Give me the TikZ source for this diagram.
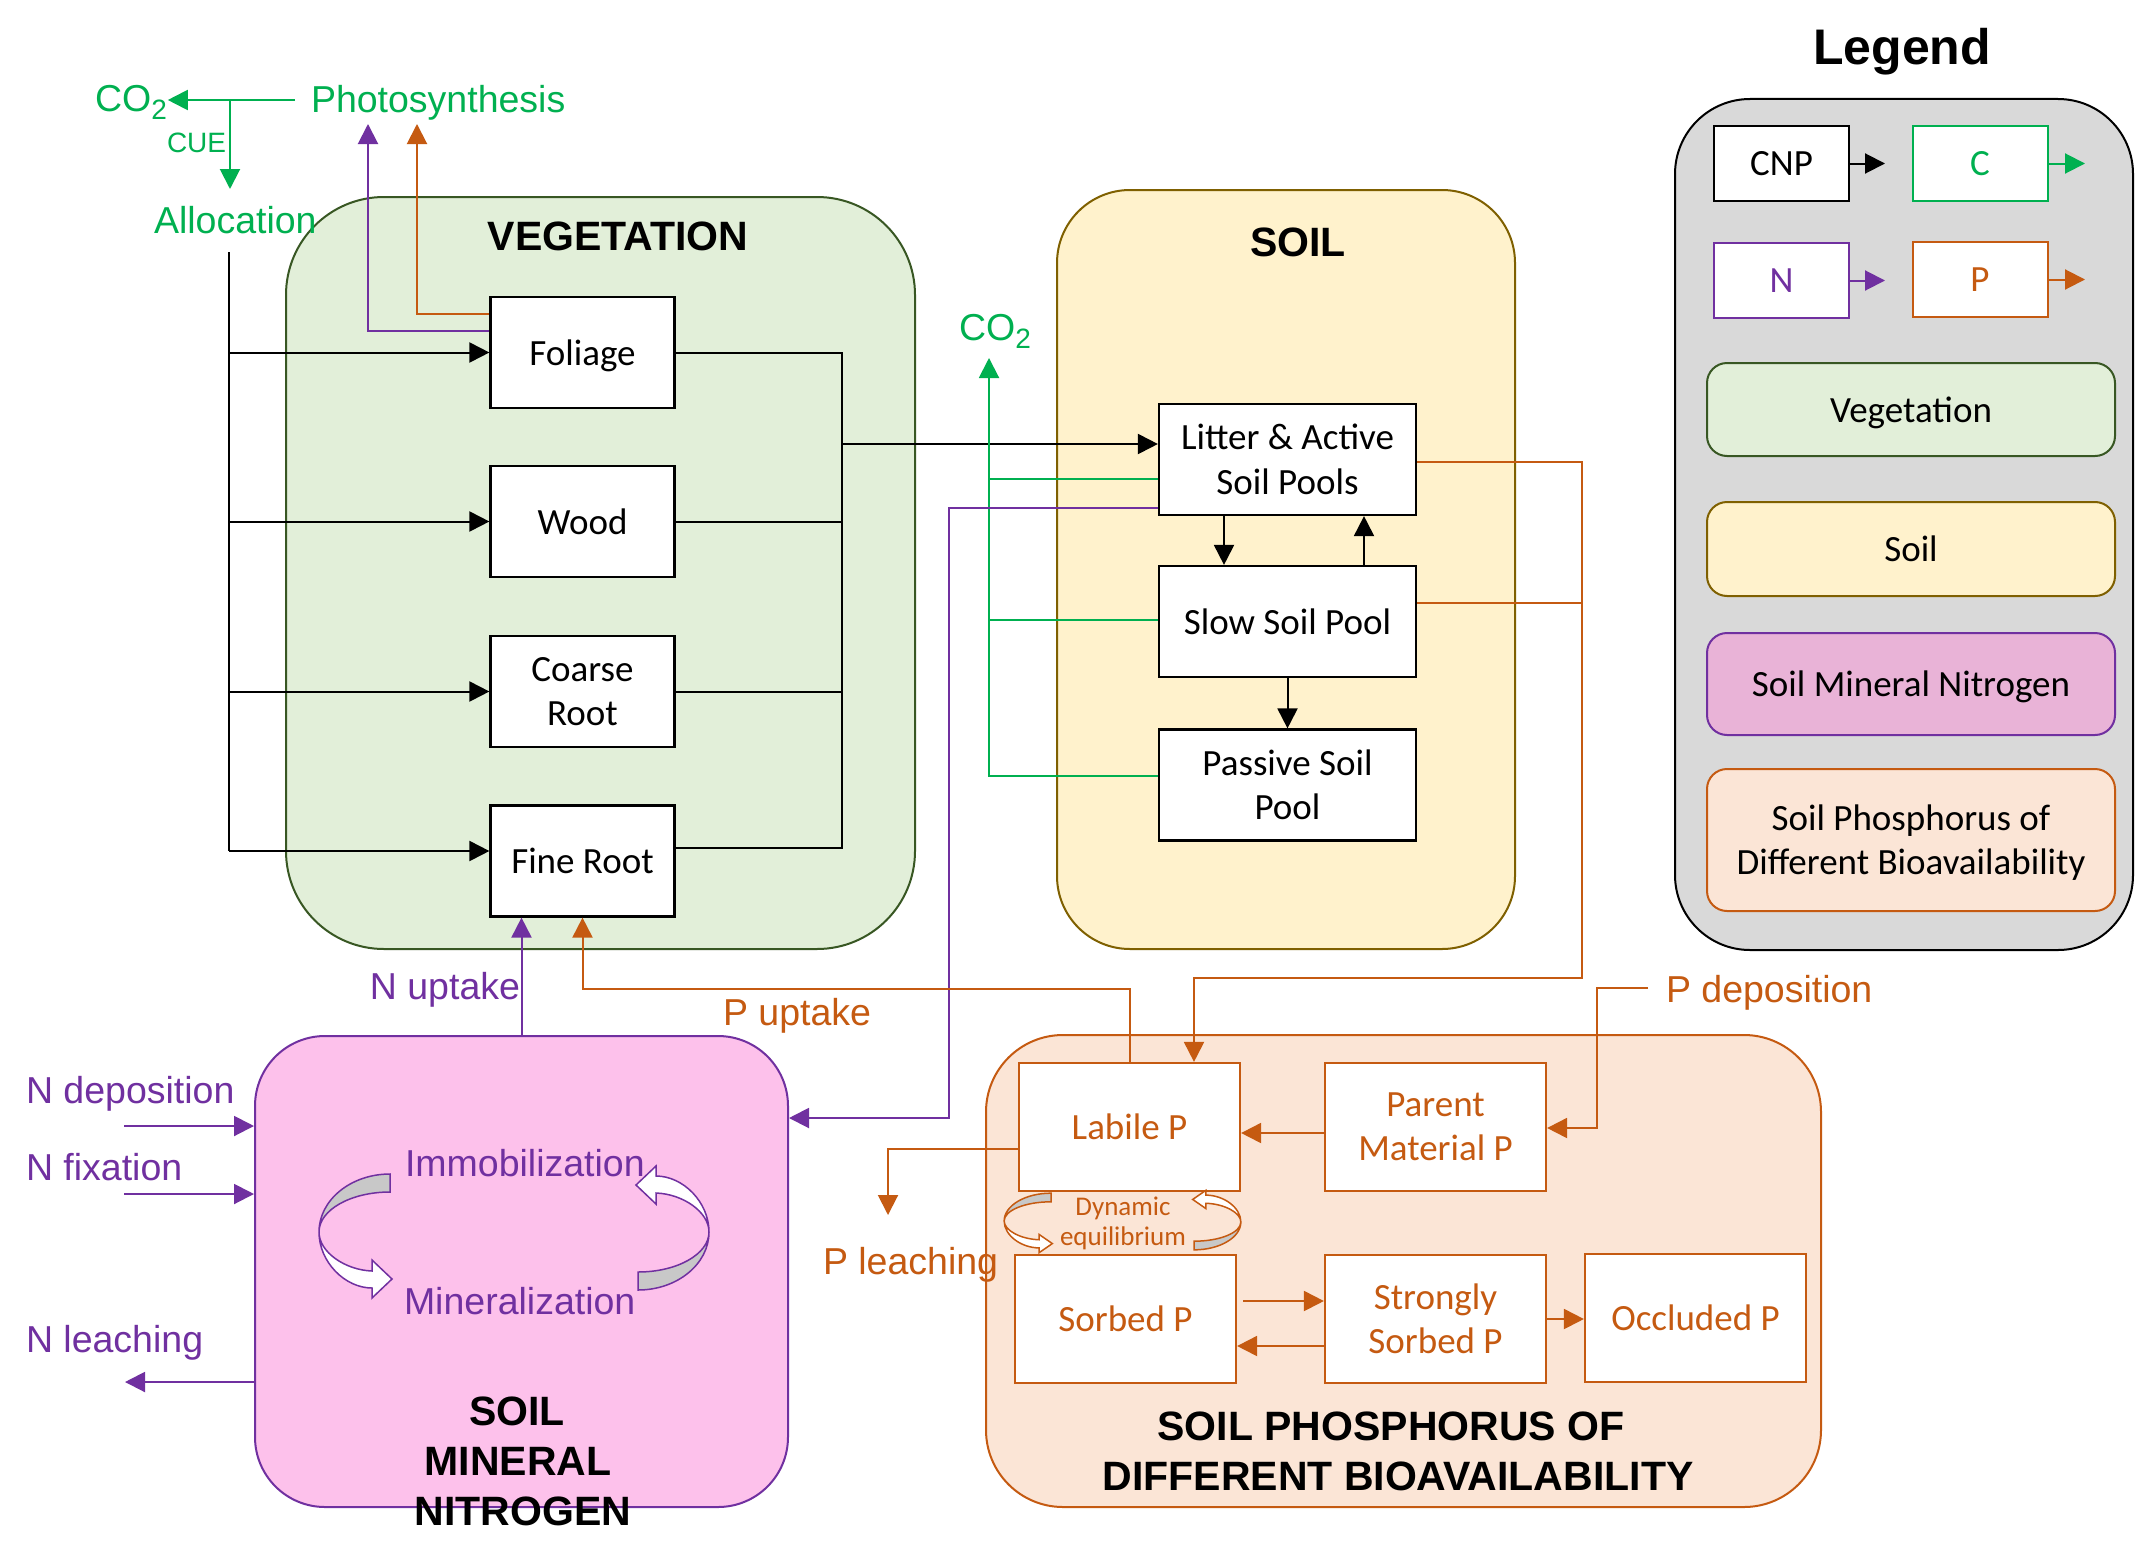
\documentclass[tikz,border=0pt]{standalone}
\usepackage{fontspec}
\setmainfont{Liberation Sans}
\newfontfamily\calfont{Carlito}
\usetikzlibrary{arrows.meta,calc}
\definecolor{cgreen}{HTML}{00B050}
\definecolor{cpurple}{HTML}{7030A0}
\definecolor{corange}{HTML}{C55A11}
\definecolor{vegfill}{HTML}{E2EFD9}
\definecolor{vegdraw}{HTML}{385723}
\definecolor{soilfill}{HTML}{FFF2CC}
\definecolor{soildraw}{HTML}{7F6000}
\definecolor{smnfill}{HTML}{FDC1EB}
\definecolor{smnleg}{HTML}{E9B3D7}
\definecolor{pfill}{HTML}{FBE5D6}
\definecolor{legfill}{HTML}{D9D9D9}
\definecolor{eqgray}{HTML}{C8C8C8}
\newcommand\lbf{\fontsize{37.5}{45}\selectfont}
\newcommand\bxf{\calfont\fontsize{37}{44.5}\selectfont}
\newcommand\eqf{\calfont\fontsize{27}{30}\selectfont}
\newcommand\titf{\fontsize{41}{49}\selectfont\bfseries}
\newcommand\csub[1]{\raisebox{-8pt}{\fontsize{28}{30}\selectfont #1}}
\newcommand\cvshape[1]{%
  \filldraw[fill=eqgray, draw=#1, line width=1.5pt] (0,-58) .. controls (-39.2,-58) and (-71,-32) .. (-71,0) .. controls (-71,-22.1) and (-39.2,-40) .. (0,-40) -- cycle;
  \filldraw[fill=white, draw=#1, line width=1.5pt] (-71,0) .. controls (-71,30) and (-45,56) .. (-18,56) -- (-18,66) -- (2,47) -- (-18,28) -- (-18,39) .. controls (-45,38) and (-71,20) .. (-71,0) -- cycle;
}
\begin{document}
\begin{tikzpicture}[x=1pt,y=-1pt,
  >={Triangle[length=20pt,width=20pt]}, line width=2pt,
  region/.style={inner sep=0pt, line width=2pt},
  pool/.style={draw=black, fill=white, line width=2.2pt, minimum width=184pt, minimum height=111pt, inner sep=0pt, align=center, font=\bxf},
  spool/.style={pool, minimum width=257pt},
  ppool/.style={draw=corange, fill=white, line width=2.2pt, minimum width=221pt, minimum height=128pt, inner sep=0pt, align=center, font=\bxf, text=corange},
  nodesc/.style={text depth=0pt},
  lab/.style={inner sep=0pt, font=\lbf},
  ttl/.style={inner sep=0pt, font=\titf, anchor=base},
  legbox/.style={fill=white, line width=2pt, minimum width=135pt, minimum height=75pt, inner sep=0pt, font=\bxf},
  legreg/.style={rounded corners=20pt, minimum width=408pt, line width=2pt, inner sep=0pt, font=\bxf, align=center},
  cg/.style={draw=cgreen, line width=2pt},
  cp/.style={draw=cpurple, line width=2pt},
  co/.style={draw=corange, line width=2pt}
]
\useasboundingbox (0,0) rectangle (2135,1560);
\fill[white] (0,0) rectangle (2135,1560);

% regions
\node[region, fill=vegfill, draw=vegdraw, rounded corners=98pt, minimum width=629pt, minimum height=752pt] (veg) at (600.5,573) {};
\node[region, fill=soilfill, draw=soildraw, rounded corners=73pt, minimum width=458pt, minimum height=759pt] (soil) at (1286,569.5) {};
\node[region, fill=smnfill, draw=cpurple, rounded corners=70pt, minimum width=533pt, minimum height=471pt] (smn) at (521.5,1271.5) {};
\node[region, fill=pfill, draw=corange, rounded corners=77pt, minimum width=835pt, minimum height=472pt] (spdb) at (1403.5,1271) {};
\node[region, fill=legfill, draw=black, rounded corners=75pt, minimum width=458pt, minimum height=851pt] (leg) at (1904,524.5) {};

% titles
\node[ttl] (vegT) at (618,250) {VEGETATION};
\node[ttl] (soilT) at (1298,256) {SOIL};
\node[ttl, font=\fontsize{50}{56}\selectfont\bfseries] (legT) at (1902,65) {Legend};
\node[ttl] (spT1) at (1391,1440) {SOIL PHOSPHORUS OF};
\node[ttl] (spT2) at (1398,1490) {DIFFERENT BIOAVAILABILITY};

% vegetation pools
\node[pool, nodesc] (foliage) at (582.5,352.5) {Foliage};
\node[pool] (wood) at (582.5,521.5) {Wood};
\node[pool] (coarse) at (582.5,691.5) {Coarse\\Root};
\node[pool] (fine) at (582.5,861) {Fine Root};

% soil pools
\node[spool] (litter) at (1287.5,459.5) {Litter \& Active\\Soil Pools};
\node[spool] (slow) at (1287.5,621.5) {Slow Soil Pool};
\node[spool] (passive) at (1287.5,785) {Passive Soil\\Pool};

% phosphorus pools
\node[ppool] (labile) at (1129.5,1127) {Labile P};
\node[ppool] (parent) at (1435.5,1127) {Parent\\Material P};
\node[ppool] (sorbed) at (1125.5,1319) {Sorbed P};
\node[ppool] (strong) at (1435.5,1319) {Strongly\\Sorbed P};
\node[ppool] (occl) at (1695.5,1318) {Occluded P};

% legend items
\node[legbox, draw=black] (lcnp) at (1781.5,163.5) {CNP};
\node[legbox, draw=cgreen, text=cgreen] (lc) at (1980,163.5) {C};
\node[legbox, draw=cpurple, text=cpurple] (ln) at (1781.5,280.5) {N};
\node[legbox, draw=corange, text=corange] (lp) at (1980,279.5) {P};
\coordinate (lcnpE) at (1885,163.5);
\coordinate (lcE) at (2085,163.5);
\coordinate (lnE) at (1885,280.5);
\coordinate (lpE) at (2085,279.5);
\draw[->] (lcnp.east) -- (lcnpE);
\draw[cg,->] (lc.east) -- (lcE);
\draw[cp,->] (ln.east) -- (lnE);
\draw[co,->] (lp.east) -- (lpE);
\node[legreg, nodesc, fill=vegfill, draw=vegdraw, minimum height=93pt] (lveg) at (1911,409.5) {Vegetation};
\node[legreg, fill=soilfill, draw=soildraw, minimum height=94pt] (lsoil) at (1911,549) {Soil};
\node[legreg, nodesc, fill=smnleg, draw=cpurple, minimum height=102pt] (lsmn) at (1911,684) {Soil Mineral Nitrogen};
\node[legreg, fill=pfill, draw=corange, minimum height=142pt] (lsp) at (1911,840) {};
\node[inner sep=0pt, font=\bxf, align=center] (lspT) at (1911,842.5) {Soil Phosphorus of\\Different Bioavailability};

% top labels
\node[lab, text=cgreen, anchor=base west] (co2a) at (94,112) {CO\csub{2}};
\node[lab, text=cgreen, anchor=base west] (photo) at (310,113) {Photosynthesis};
\node[lab, text=cgreen, anchor=base west, font=\fontsize{28}{30}\selectfont] (cue) at (166,152) {CUE};
\node[lab, text=cgreen, anchor=base west] (alloc) at (153,233) {Allocation};
\node[lab, text=cgreen, anchor=base west] (co2s) at (958,340) {CO\csub{2}};

% carbon allocation (black)
\coordinate (allocTop) at (229,252);
\coordinate (allocBot) at (229,851);
\draw (allocTop) -- (allocBot);
\draw[->] (allocTop |- foliage.west) -- (foliage.west);
\draw[->] (allocTop |- wood.west) -- (wood.west);
\draw[->] (allocTop |- coarse.west) -- (coarse.west);
\coordinate (fineIn) at ($(fine.west)+(0,-10)$);
\draw[->] (allocBot) -- (fineIn);
\coordinate (bus) at (842,444);
\coordinate (fineOut) at ($(fine.east)+(0,-13)$);
\draw (foliage.east) -- (foliage.east -| bus) -- (fineOut -| bus) -- (fineOut);
\draw (wood.east) -- (wood.east -| bus);
\draw (coarse.east) -- (coarse.east -| bus);
\draw[->] (bus) -- (bus -| litter.west);
\draw[->] ($(litter.south)+(-63.5,0)$) -- ($(slow.north)+(-63.5,0)$);
\draw[->] ($(slow.north)+(76.5,0)$) -- ($(litter.south)+(76.5,0)$);
\draw[->] (slow.south) -- (passive.north);

% green
\coordinate (ps) at (295,100);
\coordinate (split) at (230,100);
\coordinate (allocIn) at (230,189);
\draw[cg,->] (ps) -- (ps -| co2a.east);
\draw[cg,->] (split) -- (allocIn);
\coordinate (co2tip) at (989,358);
\draw[cg,->] ($(passive.west)+(0,-9)$) -| (co2tip);
\coordinate (g1) at ($(litter.west)+(0,19.5)$);
\coordinate (g2) at ($(slow.west)+(0,-1.5)$);
\draw[cg] (g1) -- (g1 -| co2tip);
\draw[cg] (g2) -- (g2 -| co2tip);

% foliage to photosynthesis
\coordinate (tipO) at (417,124);
\coordinate (tipN) at (368,124);
\draw[co,->] ($(foliage.north west)+(0,18)$) -| (tipO);
\draw[cp,->] ($(foliage.north west)+(0,35)$) -| (tipN);

% nitrogen
\coordinate (nUp) at ($(fine.south)+(-61,0)$);
\draw[cp,->] (nUp |- smn.north) -- (nUp);
\node[lab, text=cpurple, anchor=base east] (nuptL) at (521,999) {N uptake};
\coordinate (ndep) at (124,1126);
\coordinate (nfix) at (124,1194);
\coordinate (nlch) at (125,1382);
\draw[cp,->] (ndep) -- (ndep -| smn.west);
\draw[cp,->] (nfix) -- (nfix -| smn.west);
\draw[cp,->] (smn.west |- nlch) -- (nlch);
\node[lab, text=cpurple, anchor=base west] (ndepL) at (25,1103) {N deposition};
\node[lab, text=cpurple, anchor=base west] (nfixL) at (25,1180) {N fixation};
\node[lab, text=cpurple, anchor=base west] (nlchL) at (25,1352) {N leaching};
\coordinate (pv) at (949,1118);
\draw[cp,->] ($(litter.west)+(0,48.5)$) -| (pv) -- (pv -| smn.east);
\node[lab, text=cpurple, anchor=base west] (immob) at (404,1176) {Immobilization};
\node[lab, text=cpurple, anchor=base west] (miner) at (403,1314) {Mineralization};
\begin{scope}[shift={(390,1232)}]\cvshape{cpurple}\end{scope}
\begin{scope}[shift={(638,1232)}, rotate=180]\cvshape{cpurple}\end{scope}
\node[ttl] (smnT1) at (517,1425) {SOIL};
\node[ttl] (smnT2) at (518,1475) {MINERAL};
\node[ttl] (smnT3) at (523,1525) {NITROGEN};

% phosphorus
\coordinate (pUpY) at (850,989);
\draw[co,->] (labile.north) |- (pUpY) -| (fine.south);
\node[lab, text=corange, anchor=base west] (puptL) at (722,1025) {P uptake};
\coordinate (lo) at ($(litter.east)+(0,2.5)$);
\coordinate (so) at ($(slow.east)+(0,-18.5)$);
\coordinate (ov) at (1582,978);
\coordinate (lbIn) at ($(labile.north)+(64.5,0)$);
\draw[co,->] (lo) -| (ov) -| (lbIn);
\draw[co] (so) -- (so -| ov);
\coordinate (pd) at (1648,988);
\coordinate (pdv) at (1597,1128);
\draw[co,->] (pd) -| (pdv) -- (pdv -| parent.east);
\node[lab, text=corange, anchor=base west] (pdepL) at (1665,1002) {P deposition};
\coordinate (pw) at ($(parent.west)+(0,6)$);
\draw[co,->] (pw) -- (pw -| labile.east);
\coordinate (pl) at (888,1215);
\draw[co,->] ($(labile.west)+(0,22)$) -| (pl);
\node[lab, text=corange, anchor=base west] (plchL) at (822,1274) {P leaching};
\coordinate (sa) at ($(sorbed.east)+(6,-18)$);
\draw[co,->] (sa) -- (sa -| strong.west);
\coordinate (sb) at ($(strong.west)+(0,27)$);
\draw[co,->] (sb) -- (sb -| sorbed.east);
\draw[co,->] (strong.east) -- (strong.east -| occl.west);
\begin{scope}[shift={(1051,1221)}, xscale=0.66, yscale=0.48]\cvshape{corange}\end{scope}
\begin{scope}[shift={(1194,1222)}, rotate=180, xscale=0.66, yscale=0.48]\cvshape{corange}\end{scope}
\node[inner sep=0pt, font=\eqf, text=corange, anchor=base] (eq1) at (1123,1215) {Dynamic};
\node[inner sep=0pt, font=\eqf, text=corange, anchor=base] (eq2) at (1123,1245) {equilibrium};
\end{tikzpicture}
\end{document}
